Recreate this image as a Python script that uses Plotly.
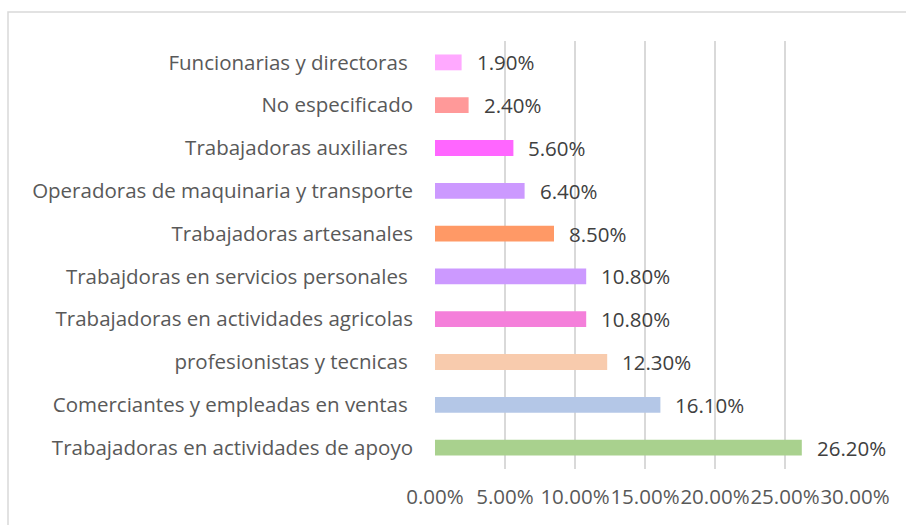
import plotly.graph_objects as go

categories = [
    "Funcionarias y directoras ",
    "No especificado",
    "Trabajadoras auxiliares ",
    "Operadoras de maquinaria y transporte",
    "Trabajadoras artesanales",
    "Trabajdoras en servicios personales ",
    "Trabajadoras en actividades agricolas",
    "profesionistas y tecnicas ",
    "Comerciantes y empleadas en ventas ",
    "Trabajadoras en actividades de apoyo",
]
values = [0.019, 0.024, 0.056, 0.064, 0.085, 0.108, 0.108, 0.123, 0.161, 0.262]
colors = ["#FFA9FF", "#FF9999", "#FF66FF", "#CC99FF", "#FF9966",
          "#CC99FF", "#F47FDA", "#F8CBAD", "#B4C7E7", "#A9D18E"]
tick_vals = [0, 0.05, 0.10, 0.15, 0.20, 0.25, 0.30]
tick_text = ["0.00%", "5.00%", "10.00%", "15.00%", "20.00%", "25.00%", "30.00%"]

FONT = "Open Sans"
FS = 20.5
fig = go.Figure(go.Bar(
    x=values, y=categories, orientation="h",
    marker=dict(color=colors, line=dict(width=0)),
    width=0.37, hoverinfo="skip",
))

for c, v in zip(categories, values):
    fig.add_annotation(x=v, y=c, text=f"{v*100:.2f}%", showarrow=False,
                       xanchor="left", xshift=13,
                       font=dict(family=FONT, size=FS, color="#404040"))

L, R, T, B = 435, 51, 41, 56
W, H = 906, 525
pw, ph = W - L - R, H - T - B
fig.add_shape(type="rect", xref="paper", yref="paper",
              x0=(8 - L) / pw, x1=(912 - L) / pw,
              y0=(H - B - 530) / ph, y1=(H - B - 12) / ph,
              line=dict(color="#D9D9D9", width=1.5), fillcolor="rgba(0,0,0,0)", layer="below")

fig.update_layout(
    width=W, height=H, margin=dict(l=L, r=R, t=T, b=B, autoexpand=False),
    paper_bgcolor="white", plot_bgcolor="white",
    showlegend=False,
    font=dict(family=FONT, size=FS, color="#595959"),
    xaxis=dict(range=[0, 0.30], tickvals=tick_vals, ticktext=tick_text,
               showgrid=True, gridcolor="#D9D9D9", gridwidth=2,
               zeroline=False, showline=False, ticks="", ticklabelstandoff=13,
               tickangle=0, automargin=False, fixedrange=True),
    yaxis=dict(autorange="reversed", showgrid=False, zeroline=False, showline=False,
               ticks="", ticklabelstandoff=21, automargin=False, fixedrange=True),
)
fig.write_html("out.html", config={"displayModeBar": False},
               post_script="document.body.style.margin='0';document.body.style.overflow='hidden';")
